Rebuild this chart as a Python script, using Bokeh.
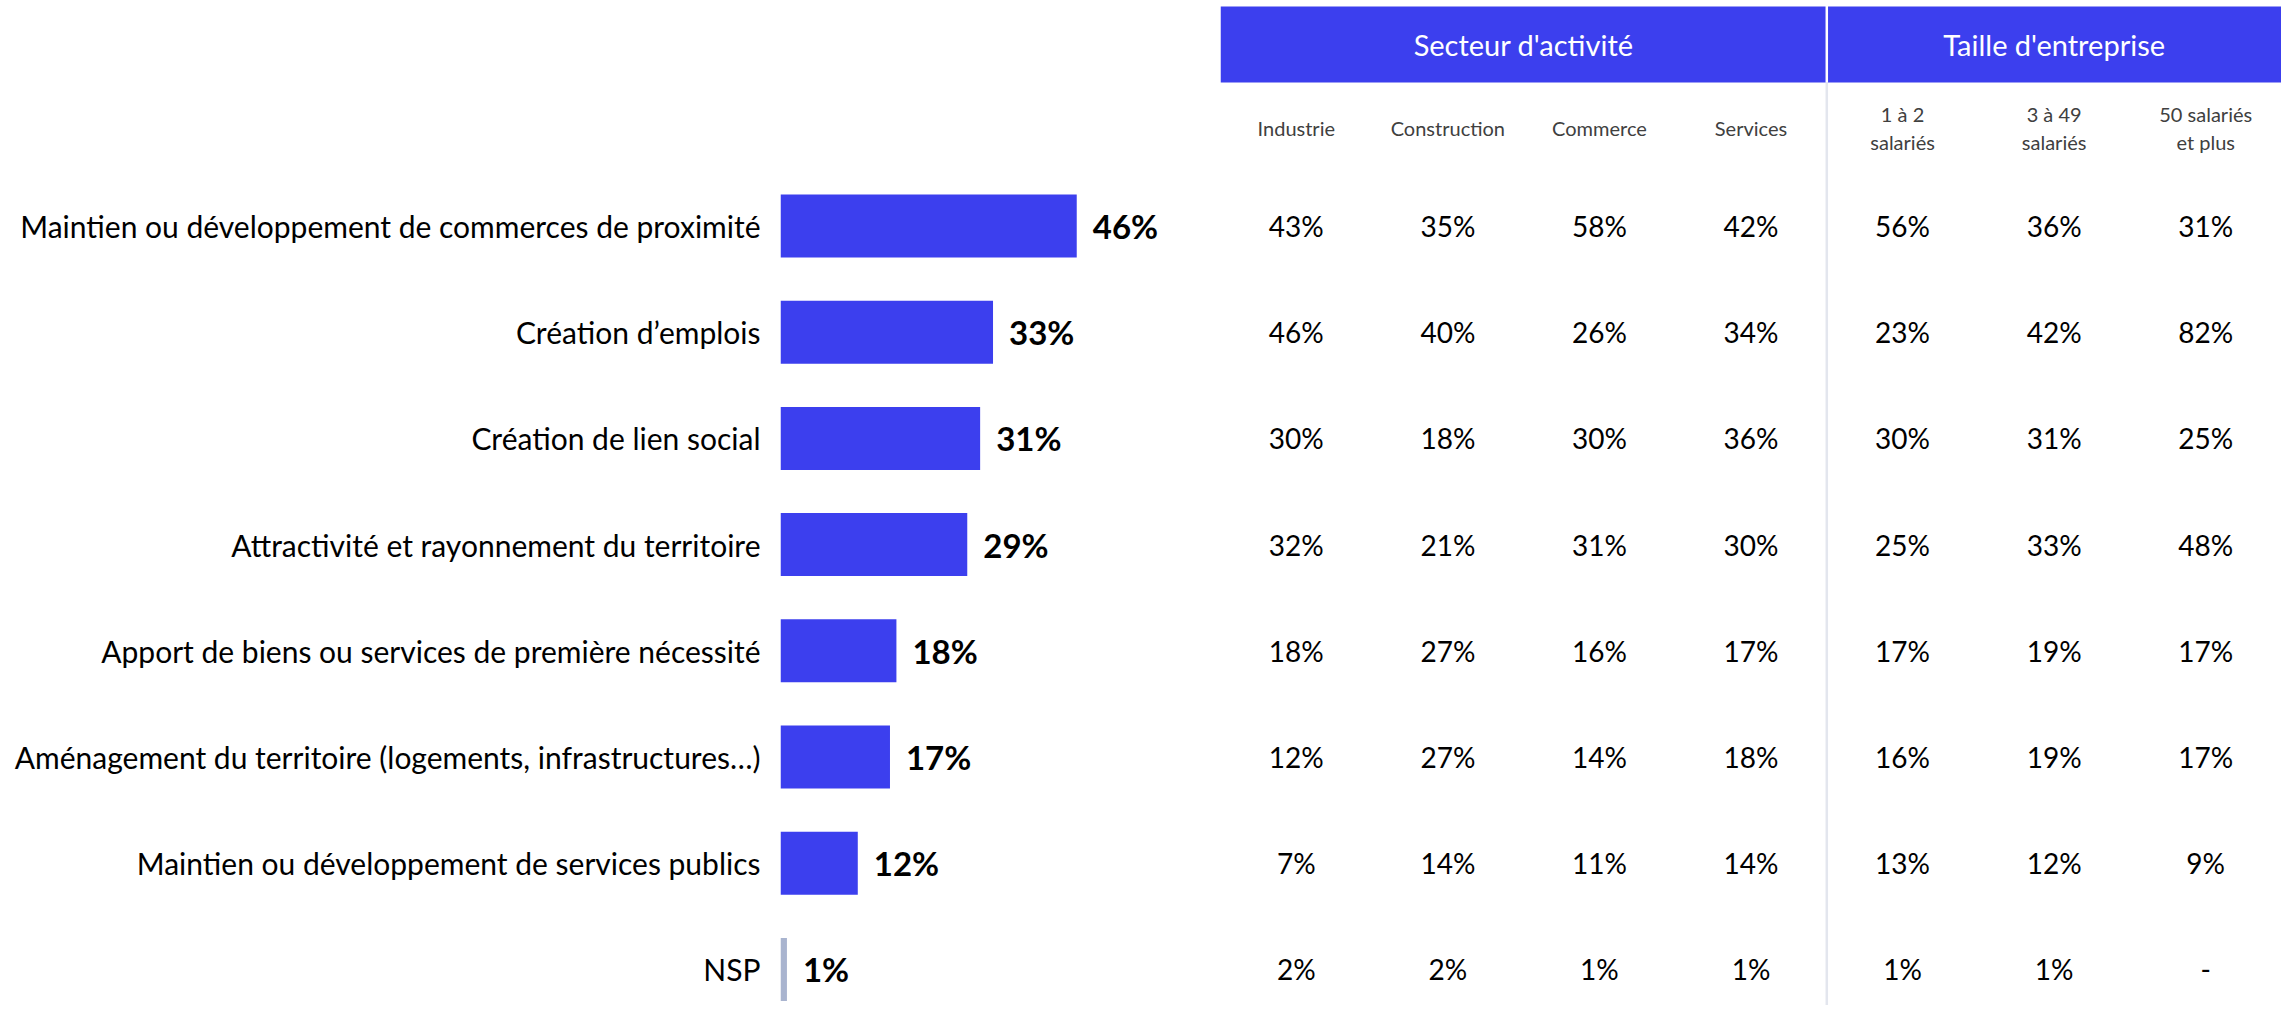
from bokeh.plotting import figure
from bokeh.models import ColumnDataSource, Range1d, FactorRange, FixedTicker
from bokeh.layouts import row
from bokeh.embed import file_html
from bokeh.resources import INLINE
from bokeh.core.properties import value

# ---------------- data ----------------
categories = [
    "Maintien ou développement de commerces de proximité",
    "Création d’emplois",
    "Création de lien social",
    "Attractivité et rayonnement du territoire",
    "Apport de biens ou services de première nécessité",
    "Aménagement du territoire (logements, infrastructures…)",
    "Maintien ou développement de services publics",
    "NSP",
]
total = [46, 33, 31, 29, 18, 17, 12, 1]

group_sector = "Secteur d'activité"
group_size = "Taille d'entreprise"
sector_cols = ["Industrie", "Construction", "Commerce", "Services"]
size_cols = ["1 à 2\nsalariés", "3 à 49\nsalariés", "50 salariés\net plus"]

industrie = [43, 46, 30, 32, 18, 12, 7, 2]
construction = [35, 40, 18, 21, 27, 27, 14, 2]
commerce = [58, 26, 30, 31, 16, 14, 11, 1]
services = [42, 34, 36, 30, 17, 18, 14, 1]
size_1_2 = [56, 23, 30, 25, 17, 16, 13, 1]
size_3_49 = [36, 42, 31, 33, 19, 19, 12, 1]
size_50 = [31, 82, 25, 48, 17, 17, 9, None]

columns_values = [industrie, construction, commerce, services, size_1_2, size_3_49, size_50]

# ---------------- style / layout ----------------
BLUE = "#3C3FEE"
NSP_COLOR = "#A9B4CF"
FONT = "Lato"
FIG_H = 1005
ROW_PX = 106.2
ROW0 = 225.5
Y_TOP = -ROW0 / ROW_PX
Y_BOT = (FIG_H - ROW0) / ROW_PX
HDR_TOP = (6 - ROW0) / ROW_PX
HDR_BOTTOM = (82 - ROW0) / ROW_PX
HDR_Y = (HDR_TOP + HDR_BOTTOM) / 2
HDR_H = HDR_BOTTOM - HDR_TOP
COLLAB_Y = (127.5 - ROW0) / ROW_PX

LEFT_W = 1220
BAR_START = 780
PX_PER_PCT = 6.44
RIGHT_W = 1061

yr = Range1d(start=Y_BOT, end=Y_TOP)

# ---------------- left: bars ----------------
left = figure(width=LEFT_W, height=FIG_H, output_backend="svg", toolbar_location=None,
              x_range=Range1d(0, (LEFT_W - BAR_START) / PX_PER_PCT), y_range=yr,
              x_axis_location=None, min_border_left=BAR_START, min_border_right=0,
              min_border_top=0, min_border_bottom=0, outline_line_color=None)
left.grid.visible = False

ys = list(range(len(categories)))
bar_src = ColumnDataSource(dict(
    y=ys, total=total,
    label=[f"{v}%" for v in total],
    color=[NSP_COLOR if c == "NSP" else BLUE for c in categories],
))
left.hbar(y="y", left=0, right="total", height=0.593, fill_color="color",
          line_color=None, source=bar_src)
left.text(x="total", y="y", text="label", source=bar_src, x_offset=16,
          text_align="left", text_baseline="middle", text_font=value(FONT),
          text_font_style="bold", text_font_size="33px", text_color="#000000")

ax = left.yaxis[0]
ax.ticker = FixedTicker(ticks=ys)
ax.major_label_overrides = {i: c for i, c in enumerate(categories)}
ax.major_label_text_font = FONT
ax.major_label_text_font_size = "30px"
ax.major_label_text_color = "#000000"
ax.major_label_standoff = 20
ax.axis_line_color = None
ax.major_tick_line_color = None
ax.minor_tick_line_color = None
ax.major_tick_out = 0
ax.major_tick_in = 0
ax.minor_tick_out = 0

# ---------------- right: table ----------------
factors = [(group_sector, c) for c in sector_cols] + [(group_size, c) for c in size_cols]
xr = FactorRange(factors=factors, factor_padding=0, group_padding=0, range_padding=0)

right = figure(width=RIGHT_W, height=FIG_H, output_backend="svg", toolbar_location=None,
               x_range=xr, y_range=yr, x_axis_location=None, y_axis_location=None,
               min_border=0, outline_line_color=None)
right.grid.visible = False

groups = [group_sector, group_size]
right.rect(x=groups, y=[HDR_Y, HDR_Y], width=[len(sector_cols), len(size_cols)],
           height=HDR_H, fill_color=BLUE, line_color=None)
right.text(x=groups, y=[HDR_Y, HDR_Y], text=groups, text_color="white",
           text_align="center", text_baseline="middle", text_font=value(FONT),
           text_font_size="29px")

sep = len(sector_cols)
right.segment(x0=[sep], y0=[HDR_BOTTOM], x1=[sep], y1=[Y_BOT],
              line_color="#E3E6EE", line_width=2.5)
right.segment(x0=[sep], y0=[Y_TOP], x1=[sep], y1=[HDR_BOTTOM],
              line_color="white", line_width=2.5)

right.text(x=factors, y=[COLLAB_Y] * len(factors), text=[f[1] for f in factors],
           text_color="#404040", text_align="center", text_baseline="middle",
           text_font=value(FONT), text_font_size="20px", text_line_height=1.15)

cx, cy, ct = [], [], []
for f, vals in zip(factors, columns_values):
    for i, v in enumerate(vals):
        cx.append(f)
        cy.append(i)
        ct.append("-" if v is None else f"{v}%")
tab_src = ColumnDataSource(dict(x=cx, y=cy, t=ct))
right.text(x="x", y="y", text="t", source=tab_src, text_color="#000000",
           text_align="center", text_baseline="middle", text_font=value(FONT),
           text_font_size="28px")

layout = row(left, right)
open("out.html", "w").write(file_html(layout, INLINE))
